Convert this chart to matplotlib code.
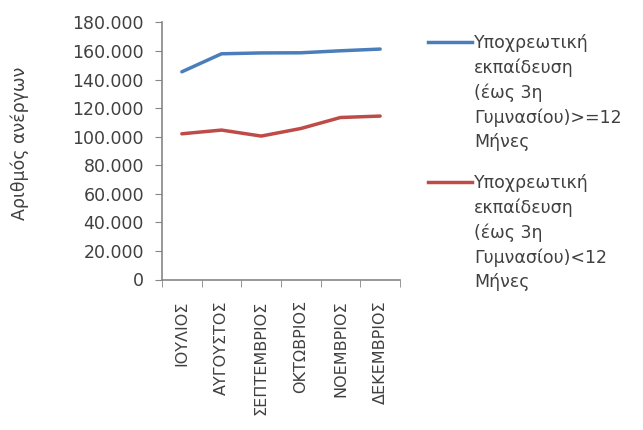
import matplotlib
matplotlib.use("Agg")
from matplotlib import pyplot as plt
from matplotlib.lines import Line2D
from matplotlib.ticker import FuncFormatter

plt.rcParams['font.family'] = ['DejaVu Sans']

months = ['ΙΟΥΛΙΟΣ', 'ΑΥΓΟΥΣΤΟΣ', 'ΣΕΠΤΕΜΒΡΙΟΣ', 'ΟΚΤΩΒΡΙΟΣ', 'ΝΟΕΜΒΡΙΟΣ', 'ΔΕΚΕΜΒΡΙΟΣ']
long_term = [145400, 158000, 158600, 158700, 160100, 161300]
short_term = [102000, 104600, 100400, 105700, 113400, 114400]
label_long = 'Υποχρεωτική\nεκπαίδευση\n(έως 3η\nΓυμνασίου)>=12\nΜήνες'
label_short = 'Υποχρεωτική\nεκπαίδευση\n(έως 3η\nΓυμνασίου)<12\nΜήνες'
colors = ['#4A7EBB', '#BE4B48']

fig = plt.figure(figsize=(6.43, 4.30), dpi=100)
ax = fig.add_axes([0.252, 0.350, 0.370, 0.598])

x = list(range(len(months)))
ax.plot(x, long_term, color=colors[0], lw=2.5, solid_capstyle='round')
ax.plot(x, short_term, color=colors[1], lw=2.5, solid_capstyle='round')

ax.set_xlim(-0.5, len(months) - 0.5)
ax.set_ylim(0, 180000)
ax.set_yticks(range(0, 180001, 20000))
ax.yaxis.set_major_formatter(FuncFormatter(lambda v, p: '{:,.0f}'.format(v).replace(',', '.')))

ax.set_xticks(x)
ax.set_xticklabels(months, rotation=90, va='top', ha='center')
ax.set_xticks([i - 0.5 for i in range(len(months) + 1)], minor=True)
ax.tick_params(axis='x', which='major', length=0, pad=15, labelsize=11.5, colors='#404040')
ax.tick_params(axis='x', which='minor', length=5, color='#868686')
ax.tick_params(axis='y', length=5, color='#868686', labelsize=12.5, labelcolor='#404040', pad=8)

for s in ['top', 'right']:
    ax.spines[s].set_visible(False)
for s in ['left', 'bottom']:
    ax.spines[s].set_color('#868686')
    ax.spines[s].set_linewidth(1.2)

ax.set_ylabel('Αριθμός ανέργων', fontsize=12.5, color='#404040')
ax.yaxis.set_label_coords(-0.56, 0.53)

# legend drawn by hand so the line sits next to the first text line
W, H = 643.0, 430.0
for lab, col, ytop in [(label_long, colors[0], 42), (label_short, colors[1], 182)]:
    fig.add_artist(Line2D([428 / W, 472 / W], [1 - ytop / H, 1 - ytop / H],
                          color=col, lw=2.5, transform=fig.transFigure))
    fig.text(474 / W, 1 - (ytop - 8) / H, lab, fontsize=12.5, color='#404040',
             va='top', ha='left', linespacing=1.45)

fig.savefig('out.png', dpi=100)
